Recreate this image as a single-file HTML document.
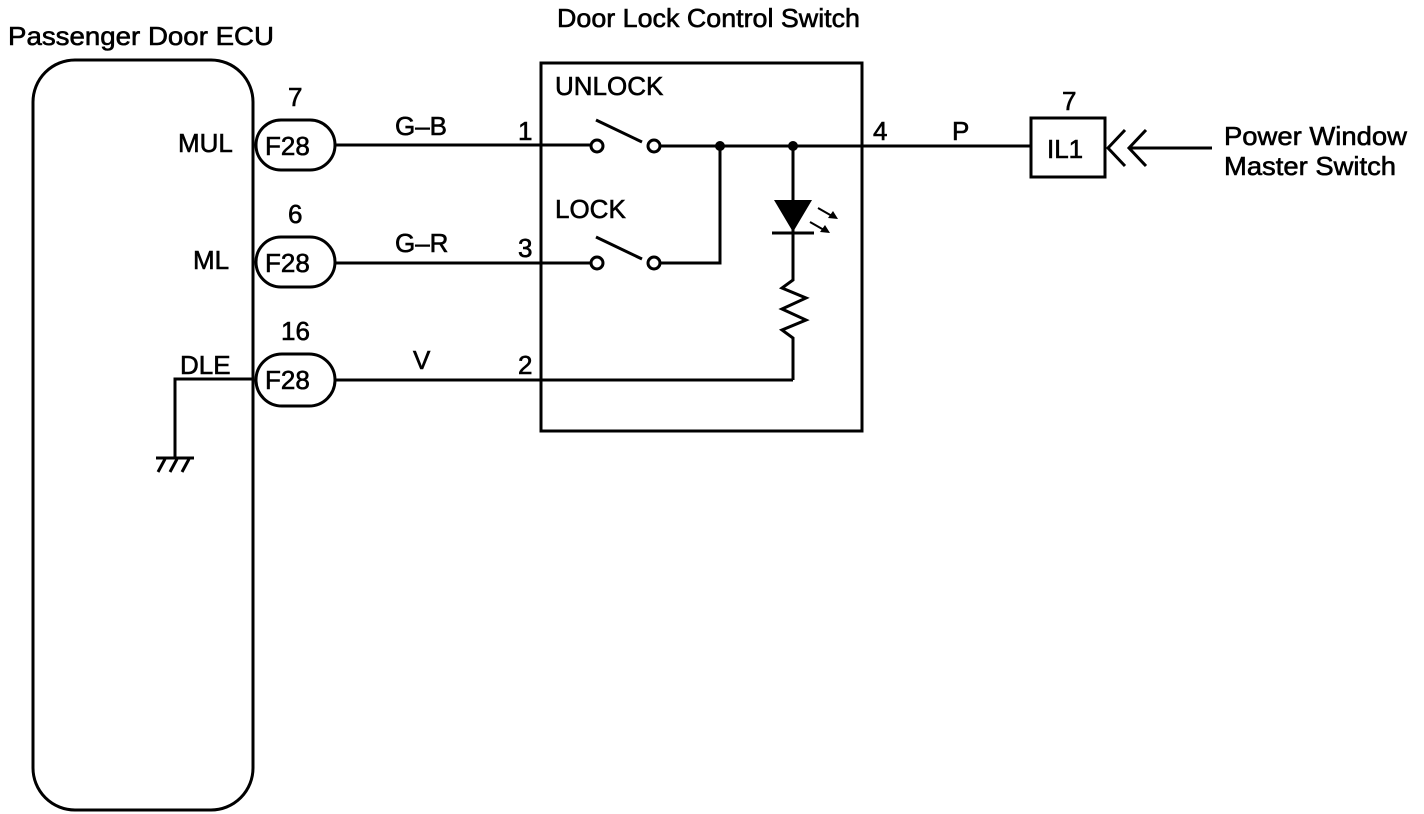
<!DOCTYPE html>
<html><head><style>
html,body{margin:0;padding:0;background:#fff;}
svg{display:block;}
text{font-family:"Liberation Sans",Arial,sans-serif;fill:#000;stroke:#000;stroke-width:0.6;}
</style></head><body>
<svg width="1424" height="814" viewBox="0 0 1424 814" xmlns="http://www.w3.org/2000/svg">
<g stroke="#000" fill="none" stroke-width="3">
<rect x="33" y="60" width="220" height="750" rx="42" ry="42"/>
<rect x="256" y="120" width="79" height="50" rx="25"/>
<rect x="256" y="237" width="79" height="50" rx="25"/>
<rect x="256" y="354" width="79" height="52" rx="26"/>
<line x1="335" y1="145" x2="592" y2="145"/>
<line x1="335" y1="263" x2="592" y2="263"/>
<line x1="335" y1="380" x2="793" y2="380"/>
<rect x="541" y="63" width="321" height="368"/>
<circle cx="597" cy="146" r="6"/><circle cx="654" cy="146" r="6"/>
<circle cx="597" cy="263" r="6"/><circle cx="654" cy="263" r="6"/>
<line x1="596" y1="120" x2="642" y2="142"/>
<line x1="596" y1="237" x2="642" y2="259"/>
<line x1="660" y1="146" x2="1031" y2="146"/>
<polyline points="660,263 720,263 720,146"/>
<polyline points="793,146 793,280 782,288 806,298 782,309 806,320 782,330 793,338 793,380"/>
<line x1="772" y1="233" x2="814" y2="233"/>
<rect x="1031" y="118" width="74" height="59"/>
<polyline points="1125,130 1108,148 1125,166"/>
<polyline points="1146,130 1129,148 1146,166"/>
<line x1="1130" y1="148" x2="1212" y2="148"/>
<polyline points="253,379 175,379 175,458"/>
<line x1="156" y1="458" x2="194" y2="458"/>
<line x1="165" y1="459" x2="158" y2="472"/>
<line x1="177" y1="459" x2="170" y2="472"/>
<line x1="189" y1="459" x2="182" y2="472"/>
<line x1="818" y1="208" x2="832" y2="216" stroke-width="2"/>
<line x1="810" y1="222" x2="824" y2="230" stroke-width="2"/>
</g>
<g fill="#000">
<circle cx="720" cy="146" r="5"/><circle cx="793" cy="146" r="5"/>
<polygon points="774,200 812,200 793,232"/>
<polygon points="838,219 828,218 833,211"/>
<polygon points="830,233 820,232 825,225"/>
</g>
<g font-size="26">
<text x="8" y="45" textLength="266" lengthAdjust="spacingAndGlyphs">Passenger Door ECU</text>
<text x="557" y="27" textLength="303" lengthAdjust="spacingAndGlyphs">Door Lock Control Switch</text>
<text x="178" y="152">MUL</text>
<text x="193" y="269">ML</text>
<text x="180" y="374">DLE</text>
<text x="288" y="106">7</text>
<text x="288" y="223">6</text>
<text x="281" y="340">16</text>
<text x="265" y="155">F28</text>
<text x="265" y="272">F28</text>
<text x="265" y="389">F28</text>
<text x="395" y="135">G–B</text>
<text x="395" y="252">G–R</text>
<text x="413" y="369">V</text>
<text x="518" y="140">1</text>
<text x="518" y="257">3</text>
<text x="518" y="374">2</text>
<text x="555" y="95">UNLOCK</text>
<text x="555" y="218">LOCK</text>
<text x="873" y="140">4</text>
<text x="952" y="140">P</text>
<text x="1062" y="110">7</text>
<text x="1047" y="158">IL1</text>
<text x="1224" y="145" textLength="183" lengthAdjust="spacingAndGlyphs">Power Window</text>
<text x="1224" y="175" textLength="172" lengthAdjust="spacingAndGlyphs">Master Switch</text>
</g>
</svg>
</body></html>
